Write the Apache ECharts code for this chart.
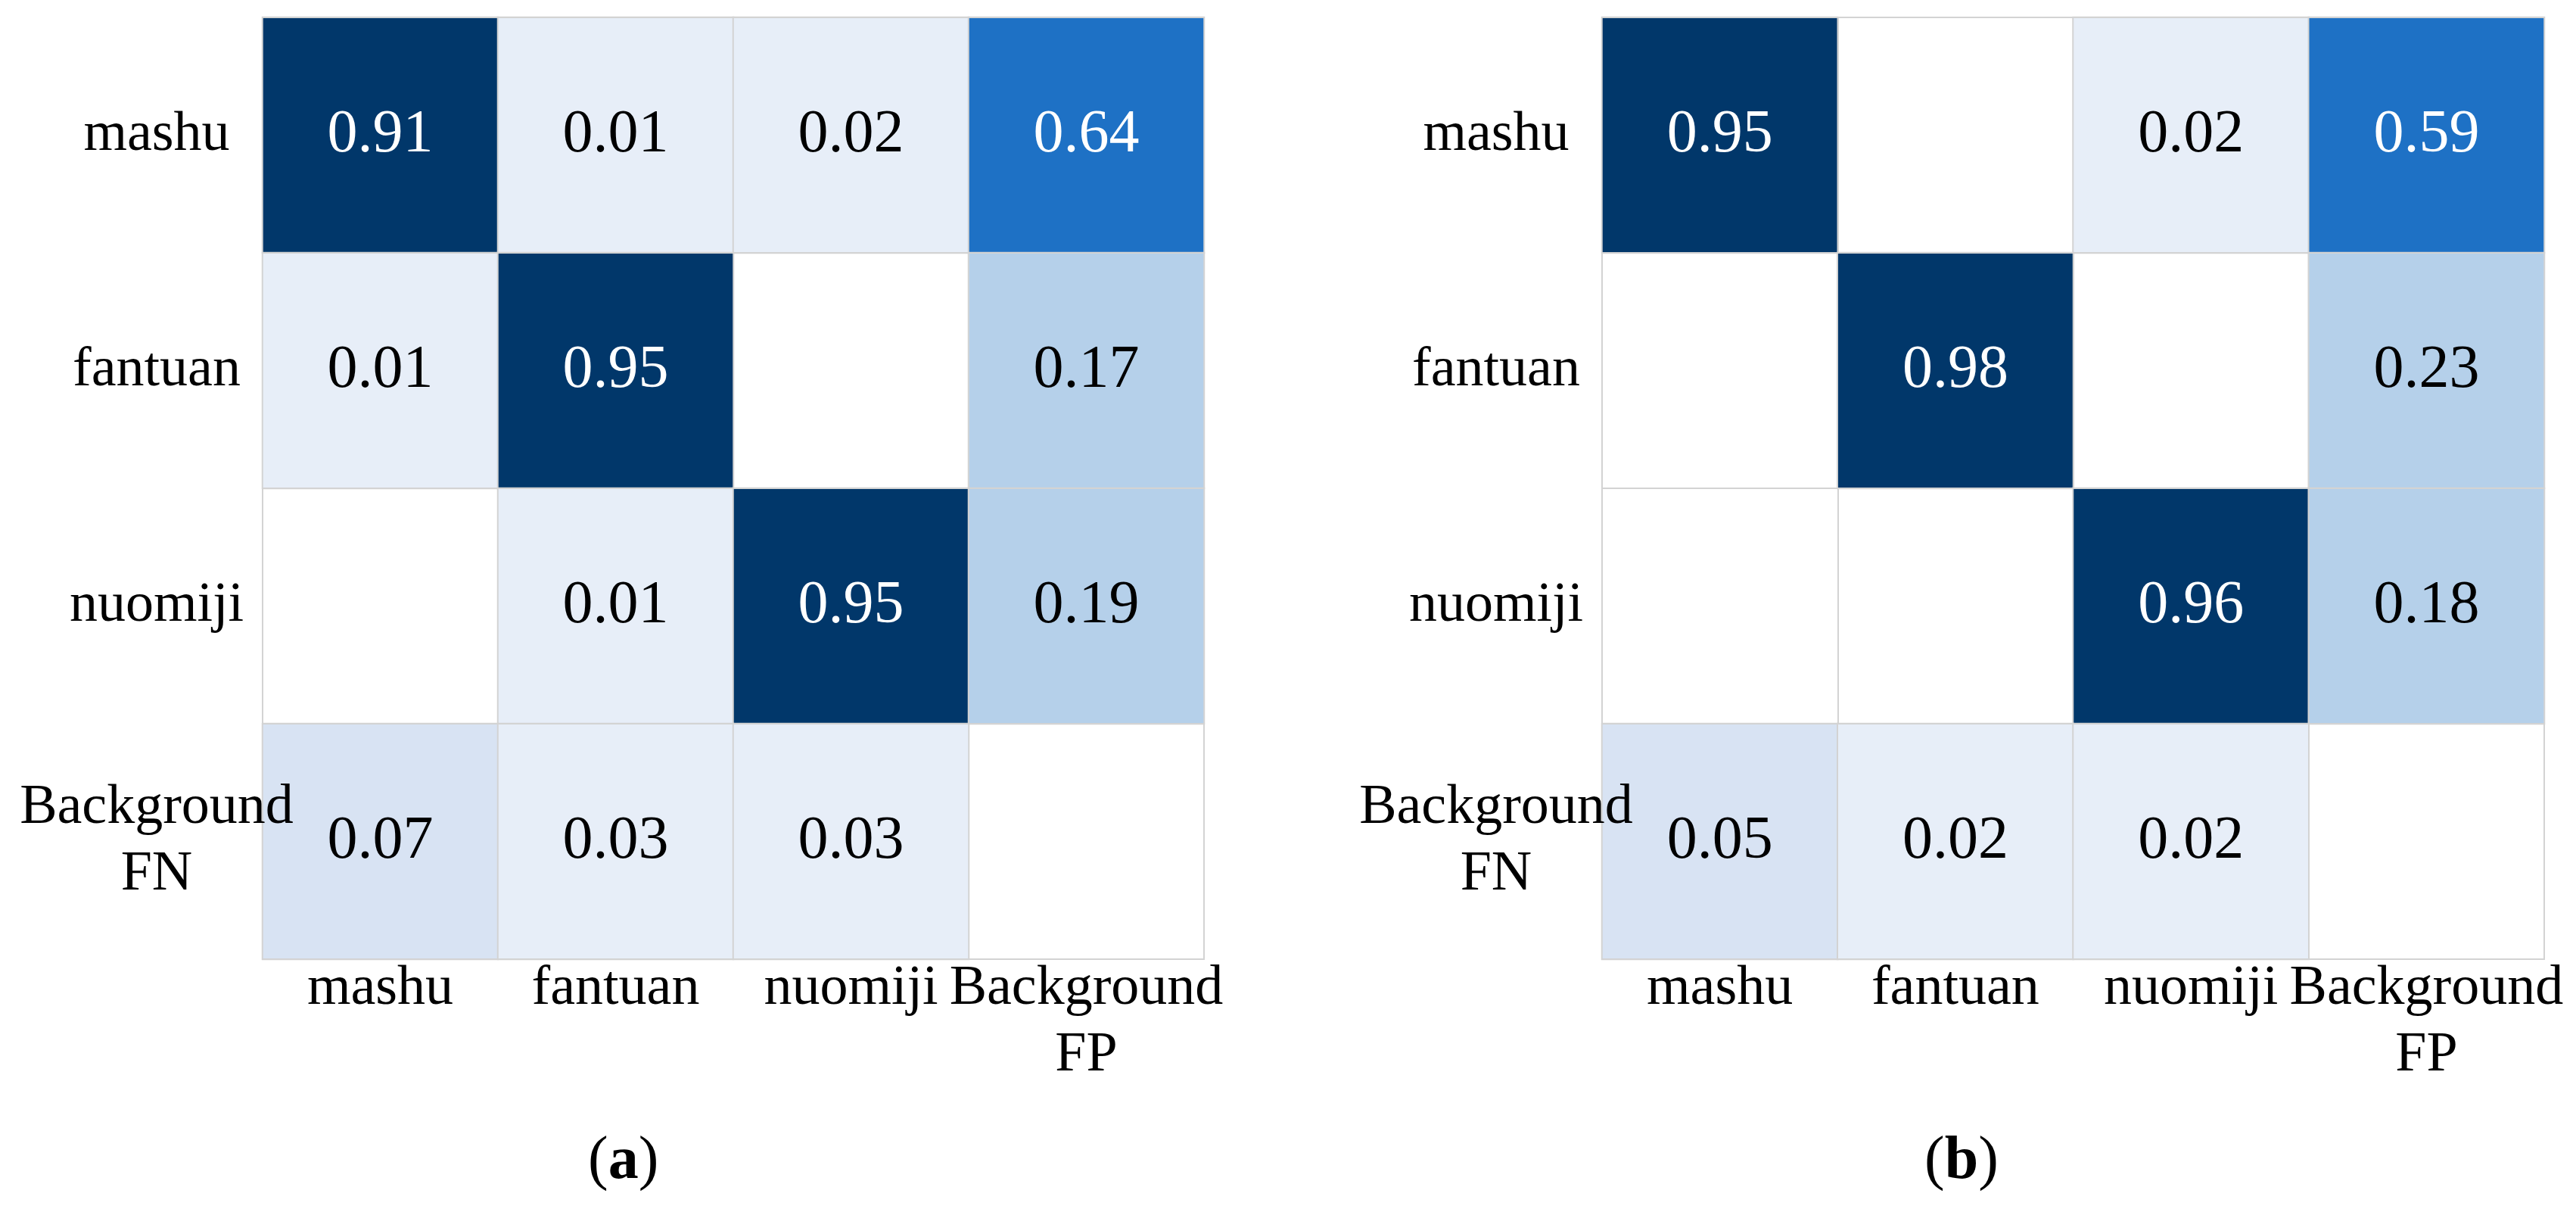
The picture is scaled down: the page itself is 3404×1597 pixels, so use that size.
<!DOCTYPE html>
<html>
<head>
<meta charset="utf-8">
<script src="https://cdn.jsdelivr.net/npm/echarts@6/dist/echarts.min.js"></script>
<style>
html,body{margin:0;padding:0;background:#fff;}
#c{width:3404px;height:1597px;}
</style>
</head>
<body>
<div id="c"></div>
<script>
// ---- data ----
var xCategories = ['mashu', 'fantuan', 'nuomiji', 'Background\nFP'];
var yCategories = ['mashu', 'fantuan', 'nuomiji', 'Background\nFN'];
// rows follow yCategories, columns follow xCategories; null = empty cell
var matrixA = [
  [0.91, 0.01, 0.02, 0.64],
  [0.01, 0.95, null, 0.17],
  [null, 0.01, 0.95, 0.19],
  [0.07, 0.03, 0.03, null]
];
var matrixB = [
  [0.95, null, 0.02, 0.59],
  [null, 0.98, null, 0.23],
  [null, null, 0.96, 0.18],
  [0.05, 0.02, 0.02, null]
];
var panelLabels = ['a', 'b'];

function toCells(m) {
  var out = [];
  for (var r = 0; r < m.length; r++) {
    for (var c = 0; c < m[r].length; c++) {
      if (m[r][c] !== null) out.push([c, r, m[r][c]]);
    }
  }
  return out;
}

var FONT = '"Liberation Serif", "Times New Roman", serif';
var LINE = '#d3d3d3';

function makeX(gi) {
  return {
    type: 'category', gridIndex: gi, data: xCategories, position: 'bottom',
    axisTick: {show: false},
    axisLine: {show: false},
    splitLine: {show: true, interval: 0, lineStyle: {color: LINE, width: 2}},
    axisLabel: {interval: 0, fontFamily: FONT, fontSize: 74, color: '#000', lineHeight: 88,
      margin: -4, align: 'center', verticalAlign: 'top', overflow: 'none', hideOverlap: false}
  };
}
function makeY(gi) {
  return {
    type: 'category', gridIndex: gi, data: yCategories, inverse: true, z: 10,
    axisTick: {show: false},
    axisLine: {show: false},
    splitLine: {show: true, interval: 0, lineStyle: {color: LINE, width: 2}},
    axisLabel: {interval: 0, fontFamily: FONT, fontSize: 74, color: '#000', lineHeight: 88,
      margin: 140, align: 'center', verticalAlign: 'middle', overflow: 'none', hideOverlap: false}
  };
}
function makeSeries(gi, m) {
  return {
    type: 'heatmap', xAxisIndex: gi, yAxisIndex: gi, data: toCells(m),
    itemStyle: {borderColor: LINE, borderWidth: 2},
    label: {
      show: true, fontFamily: FONT, fontSize: 80,
      formatter: function (p) {
        var v = p.value[2];
        return (v >= 0.5 ? '{w|' : '{k|') + v.toFixed(2) + '}';
      },
      rich: {
        w: {color: '#fff', fontFamily: FONT, fontSize: 80},
        k: {color: '#000', fontFamily: FONT, fontSize: 80}
      }
    },
    emphasis: {disabled: true}
  };
}
function makeTitle(left, letter) {
  return {
    text: '{n|(}{b|' + letter + '}{n|)}',
    left: left, top: 1490,
    textStyle: {
      rich: {
        n: {fontFamily: FONT, fontSize: 80, color: '#000', fontWeight: 'normal'},
        b: {fontFamily: FONT, fontSize: 80, color: '#000', fontWeight: 'bold'}
      }
    }
  };
}

var gridCommon = {show: true, borderColor: LINE, borderWidth: 2, backgroundColor: 'transparent',
  containLabel: false, outerBoundsMode: 'none'};

var option = {
  backgroundColor: '#fff',
  animation: false,
  title: [makeTitle(772, panelLabels[0]), makeTitle(2538, panelLabels[1])],
  grid: [
    Object.assign({left: 347, top: 23, width: 1244, height: 1244}, gridCommon),
    Object.assign({left: 2117, top: 23, width: 1245, height: 1244}, gridCommon)
  ],
  xAxis: [makeX(0), makeX(1)],
  yAxis: [makeY(0), makeY(1)],
  visualMap: {
    type: 'piecewise', show: false, dimension: 2, seriesIndex: [0, 1],
    pieces: [
      {min: 0, max: 0.04, color: '#e7eef8'},
      {min: 0.04, max: 0.1, color: '#d8e3f3'},
      {min: 0.1, max: 0.4, color: '#b5d0ea'},
      {min: 0.4, max: 0.8, color: '#1e71c5'},
      {min: 0.8, max: 1, color: '#01376a'}
    ]
  },
  series: [makeSeries(0, matrixA), makeSeries(1, matrixB)]
};

var chart = echarts.init(document.getElementById('c'), null, {renderer: 'canvas'});
chart.setOption(option);
</script>
</body>
</html>
